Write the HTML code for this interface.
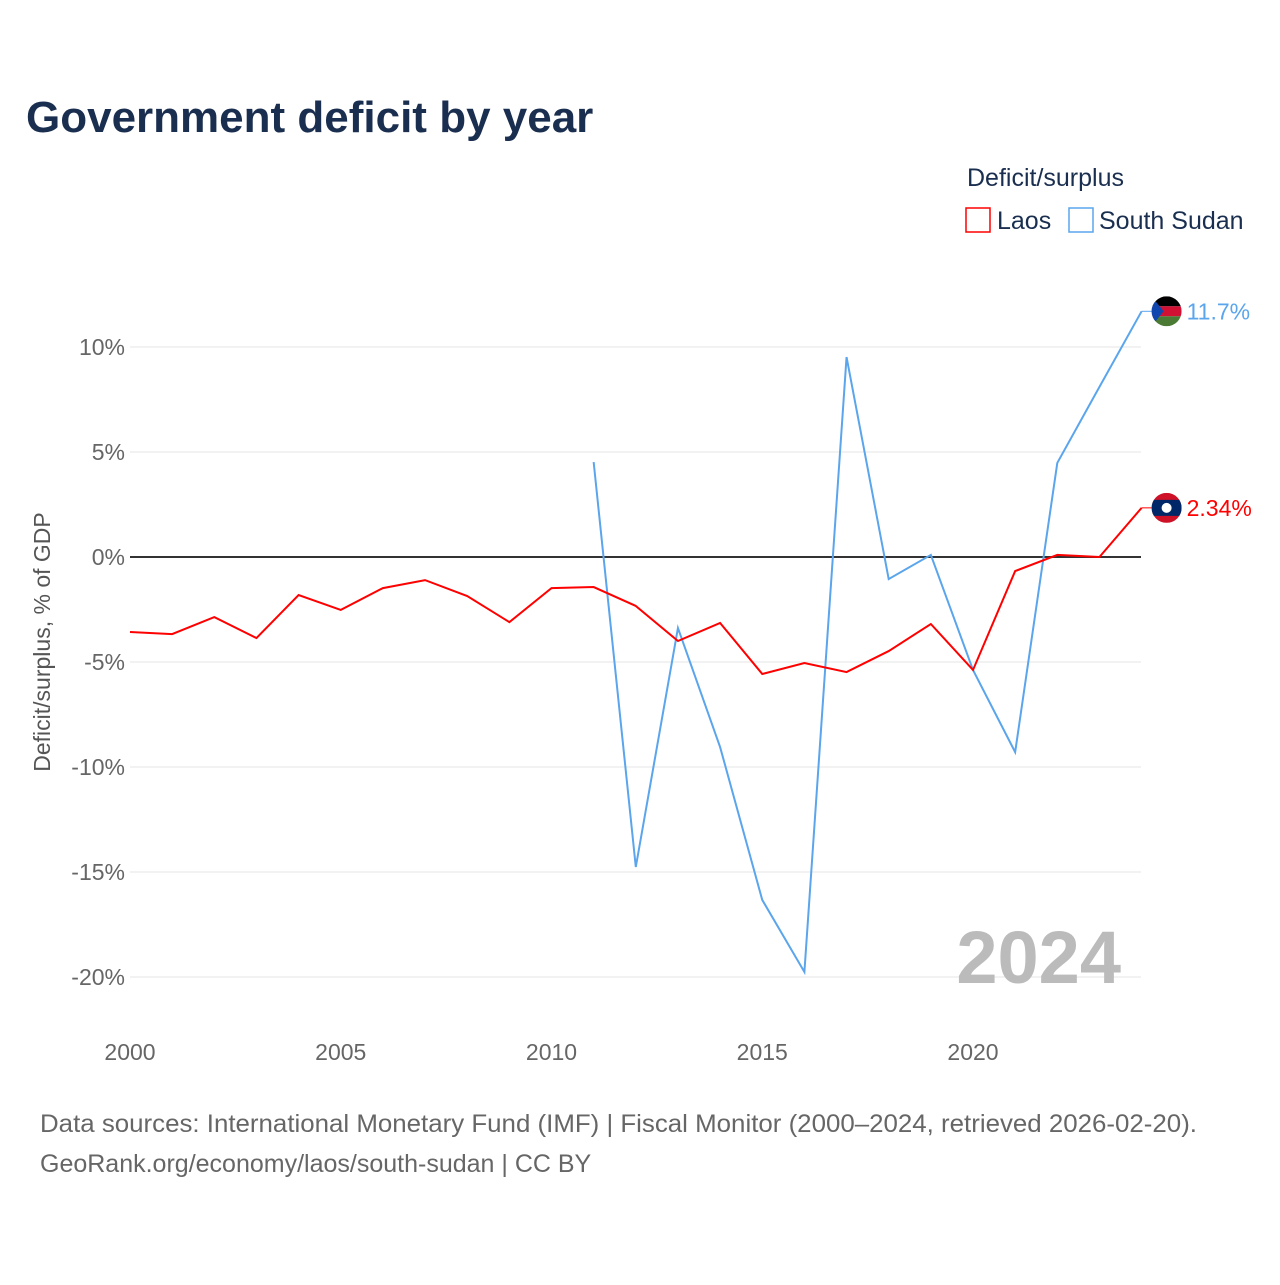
<!DOCTYPE html>
<html><head><meta charset="utf-8">
<style>
body{margin:0;background:#fff;font-family:"Liberation Sans",sans-serif;}
svg text{font-family:"Liberation Sans",sans-serif;}
</style></head>
<body>
<svg width="1280" height="1280" xmlns="http://www.w3.org/2000/svg" id="chart">
<rect width="1280" height="1280" fill="#fff"/>
<text x="26" y="132" font-size="44" font-weight="bold" fill="#1a2e4f">Government deficit by year</text>
<g>
<text x="967" y="186" font-size="25" fill="#1a2e4f">Deficit/surplus</text>
<g><rect x="966" y="208" width="24" height="24" fill="none" stroke="#f00" stroke-width="1.5"/><text x="997" y="229" font-size="25" fill="#1a2e4f">Laos</text></g>
<g><rect x="1069" y="208" width="24" height="24" fill="none" stroke="#5aa5ec" stroke-width="1.5"/><text x="1099" y="229" font-size="25" fill="#1a2e4f">South Sudan</text></g>
</g>
<g id="grid"></g>
<g id="yticks"></g>
<g id="xticks"></g>
<g id="lines"></g>
<text x="50" y="642" font-size="23" fill="#555" text-anchor="middle" transform="rotate(-90 50 642)">Deficit/surplus, % of GDP</text>
<text x="1121" y="983" font-size="74" font-weight="bold" fill="#bbb" text-anchor="end">2024</text>
<text x="40" y="1132" font-size="25" fill="#666" textLength="1157" lengthAdjust="spacingAndGlyphs">Data sources: International Monetary Fund (IMF) | Fiscal Monitor (2000–2024, retrieved 2026-02-20).</text>
<text x="40" y="1172" font-size="25" fill="#666">GeoRank.org/economy/laos/south-sudan | CC BY</text>
</svg>
<script>
const years=[2000,2001,2002,2003,2004,2005,2006,2007,2008,2009,2010,2011,2012,2013,2014,2015,2016,2017,2018,2019,2020,2021,2022,2023,2024];
const laos=[-3.57,-3.67,-2.86,-3.86,-1.81,-2.52,-1.48,-1.10,-1.86,-3.10,-1.48,-1.43,-2.33,-4.0,-3.14,-5.57,-5.05,-5.48,-4.48,-3.19,-5.38,-0.67,0.1,0.0,2.34];
const ssudanYears=[2011,2012,2013,2014,2015,2016,2017,2018,2019,2020,2021,2022,2023,2024];
const ssudan=[4.52,-14.76,-3.38,-9.05,-16.33,-19.76,9.52,-1.05,0.1,-5.38,-9.29,4.48,8.1,11.7];
const yTicks=[10,5,0,-5,-10,-15,-20];
const xTicks=[2000,2005,2010,2015,2020];
const NS="http://www.w3.org/2000/svg";
const X=y=>130+(y-2000)*42.15;
const Y=v=>557-v*21;
function mk(t,a,p){const e=document.createElementNS(NS,t);for(const k in a)e.setAttribute(k,a[k]);p.appendChild(e);return e;}
const grid=document.getElementById('grid'),yt=document.getElementById('yticks'),xt=document.getElementById('xticks'),ln=document.getElementById('lines');
yTicks.forEach(v=>{
 const l=mk('line',{x1:130,x2:1141,y1:Y(v),y2:Y(v),stroke:v===0?'#333':'#e6e6e6','stroke-width':v===0?2:1},grid);
 
 
 const t=mk('text',{x:125,y:Y(v)+8,'font-size':23,fill:'#666','text-anchor':'end'},yt);
 t.textContent=v+'%';
 
 
});
xTicks.forEach(v=>{
 const t=mk('text',{x:X(v),y:1060,'font-size':23,fill:'#666','text-anchor':'middle'},xt);
 t.textContent=v;
 
 
});
function line(xs,vs,c,name){
 const p=mk('polyline',{points:xs.map((y,i)=>X(y)+','+Y(vs[i])).join(' '),fill:'none',stroke:c,'stroke-width':2},ln);
 
 
}
line(ssudanYears,ssudan,'#5aa5ec','line-south-sudan');
line(years,laos,'#f00','line-laos');
function endLabel(v,c,txt,name,flag){
 const y=Y(v),x=X(2024);
 mk('line',{x1:x,x2:x+10,y1:y,y2:y,stroke:c,'stroke-width':1},ln);
 const g=mk('g',{},ln);
 
 
 flag(g,x+25,y);
 const t=mk('text',{x:x+45,y:y+8,'font-size':23,fill:c},ln);
 t.textContent=txt;
 
 
}
endLabel(ssudan[ssudan.length-1],'#5aa5ec','11.7%','south-sudan',(g,cx,cy)=>{
 const cp=mk('clipPath',{id:'c1'},g);mk('circle',{cx,cy,r:15},cp);
 const h=mk('g',{'clip-path':'url(#c1)'},g);
 mk('rect',{x:cx-15,y:cy-15,width:30,height:10,fill:'#000'},h);
 mk('rect',{x:cx-15,y:cy-5,width:30,height:10,fill:'#d21034'},h);
 mk('rect',{x:cx-15,y:cy+5,width:30,height:10,fill:'#4a7a33'},h);
 mk('polygon',{points:`${cx-15},${cy-15} ${cx-3},${cy} ${cx-15},${cy+15}`,fill:'#0f47af'},h);
});
endLabel(laos[laos.length-1],'#f00','2.34%','laos',(g,cx,cy)=>{
 const cp=mk('clipPath',{id:'c2'},g);mk('circle',{cx,cy,r:15},cp);
 const h=mk('g',{'clip-path':'url(#c2)'},g);
 mk('rect',{x:cx-15,y:cy-15,width:30,height:30,fill:'#ce1126'},h);
 mk('rect',{x:cx-15,y:cy-8,width:30,height:16,fill:'#002868'},h);
 mk('circle',{cx,cy,r:5,fill:'#fff'},h);
});
</script>
</body></html>
